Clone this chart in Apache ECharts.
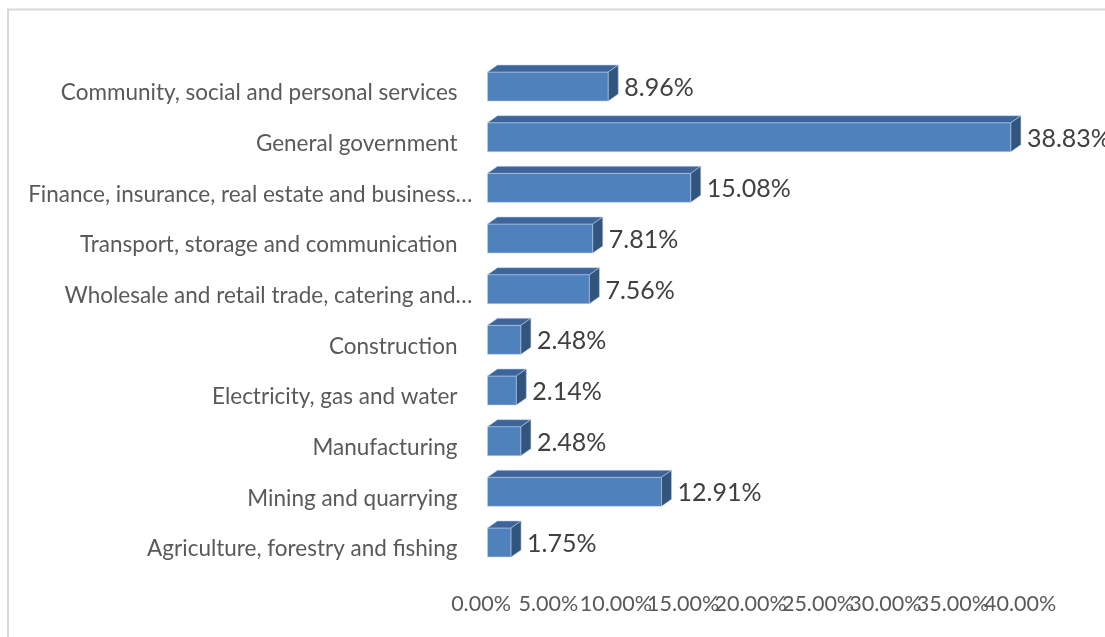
<!DOCTYPE html>
<html>
<head>
<meta charset="utf-8">
<script src="https://cdn.jsdelivr.net/npm/echarts@6/dist/echarts.min.js"></script>
<style>
  html, body { margin: 0; padding: 0; background: #ffffff; }
  #chart { width: 1105px; height: 637px; }
</style>
</head>
<body>
<div id="chart"></div>
<script>
// Industry categories, bottom to top
const categories = [
  'Agriculture, forestry and fishing',
  'Mining and quarrying',
  'Manufacturing',
  'Electricity, gas and water',
  'Construction',
  'Wholesale and retail trade, catering and…',
  'Transport, storage and communication',
  'Finance, insurance, real estate and business…',
  'General government',
  'Community, social and personal services'
];
// Share of total, in percent
const shares = [1.75, 12.91, 2.48, 2.14, 2.48, 7.56, 7.81, 15.08, 38.83, 8.96];
// Value axis range and tick values
const axisMin = 0;
const axisMax = 40;
const tickValues = [0, 5, 10, 15, 20, 25, 30, 35, 40];

const FONT = 'Lato, "Liberation Sans", sans-serif';
const FRONT = '#4F81BD';
const TOPFACE = '#3E659A';
const SIDE = '#32557F';

// Draws one box-shaped bar: front face, top face, right side, and its value label
function renderBar(params, api) {
  const v = api.value(0);
  const c = api.value(1);
  const p0 = api.coord([0, c]);
  const p1 = api.coord([v, c]);
  const x0 = p0[0], x1 = p1[0], yc = p0[1];
  const yTop = yc - 21, yBot = yc + 8;
  const dx = 10, dy = 7;
  const edge = 'rgba(190,210,235,0.55)';
  return {
    type: 'group',
    children: [
      {
        type: 'rect',
        shape: { x: x0, y: yTop, width: x1 - x0, height: yBot - yTop },
        style: { fill: FRONT, stroke: edge, lineWidth: 1 }
      },
      {
        type: 'polygon',
        shape: { points: [[x0, yTop], [x0 + dx, yTop - dy], [x1 + dx, yTop - dy], [x1, yTop]] },
        style: { fill: TOPFACE, stroke: edge, lineWidth: 1 }
      },
      {
        type: 'polygon',
        shape: { points: [[x1, yTop], [x1 + dx, yTop - dy], [x1 + dx, yBot - dy], [x1, yBot]] },
        style: { fill: SIDE, stroke: edge, lineWidth: 1 }
      },
      {
        type: 'text',
        style: {
          text: v.toFixed(2) + '%',
          x: x1 + dx + 6,
          y: yc - 5,
          align: 'left',
          verticalAlign: 'middle',
          fill: '#404040',
          font: '25px ' + FONT
        }
      }
    ]
  };
}

// The tick labels sit close together, so alternate ones go on two stacked axes
// sharing the same scale; that keeps every label drawn.
function valueAxis(values) {
  return {
    type: 'value',
    position: 'bottom',
    min: axisMin,
    max: axisMax,
    axisLine: { show: false },
    axisTick: { show: false },
    splitLine: { show: false },
    axisLabel: {
      margin: 19,
      color: '#595959',
      fontFamily: FONT,
      fontSize: 21.5,
      padding: [0, 13, 0, 0],
      customValues: values,
      showMinLabel: true,
      showMaxLabel: true,
      hideOverlap: false,
      formatter: (v) => v.toFixed(2) + '%'
    }
  };
}

const chart = echarts.init(document.getElementById('chart'), null, { renderer: 'canvas' });

chart.setOption({
  backgroundColor: '#ffffff',
  animation: false,
  graphic: [
    {
      type: 'rect',
      shape: { x: 8, y: 9.5, width: 1300, height: 1000 },
      style: { fill: 'none', stroke: '#d9d9d9', lineWidth: 2 },
      silent: true
    }
  ],
  grid: { left: 487.5, right: 78.3, top: 67.7, bottom: 62.7, containLabel: false },
  xAxis: [
    valueAxis(tickValues.filter((_, i) => i % 2 === 0)),
    valueAxis(tickValues.filter((_, i) => i % 2 === 1))
  ],
  yAxis: {
    type: 'category',
    data: categories,
    axisLine: { show: false },
    axisTick: { show: false },
    splitLine: { show: false },
    axisLabel: {
      margin: 15,
      color: '#595959',
      fontFamily: FONT,
      fontSize: 22.5,
      formatter: (v) => (v.endsWith('…') ? '{e|' + v + '}' : '{n|' + v + '}'),
      rich: {
        n: { fontFamily: FONT, fontSize: 22.5, color: '#595959', padding: [0, 15, 0, 0] },
        e: { fontFamily: FONT, fontSize: 22.5, color: '#595959' }
      }
    }
  },
  series: [
    {
      type: 'custom',
      xAxisIndex: 0,
      renderItem: renderBar,
      encode: { x: 0, y: 1 },
      data: shares.map((v, i) => [v, i]),
      clip: false
    }
  ]
});
</script>
</body>
</html>
